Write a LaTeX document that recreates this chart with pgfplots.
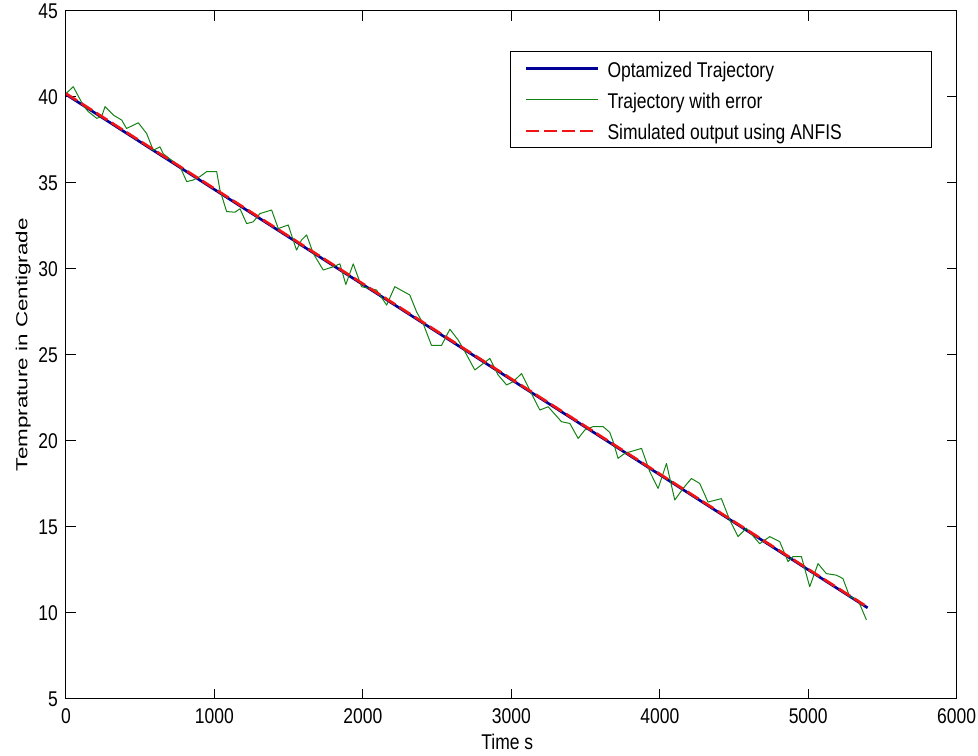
\documentclass[border=0pt]{standalone}
\usepackage{pgfplots}
\pgfplotsset{compat=1.18}
\usepackage{fontspec}
\setmainfont{Liberation Sans}[FakeStretch=0.82]
\newfontfamily\ylfont{Liberation Sans}[FakeStretch=1.4]
\definecolor{mblue}{RGB}{0,0,150}
\definecolor{mgreen}{RGB}{20,130,20}
\definecolor{mred}{RGB}{240,20,20}
\newcommand{\mfont}{\fontsize{16pt}{19pt}\selectfont}
\newcommand{\lt}[1]{\makebox[232.5pt][l]{\rule[-5pt]{0pt}{20pt}#1}}
\begin{document}
\begin{tikzpicture}
\useasboundingbox (-49.5pt,-42.75pt) rectangle (684pt,524.25pt);
\begin{axis}[
  at={(0pt,0pt)}, anchor=south west,
  scale only axis, width=668pt, height=516pt,
  xmin=0, xmax=6000, ymin=5, ymax=45,
  xtick={0,1000,...,6000}, ytick={5,10,...,45},
  tick align=inside, xtick pos=both, ytick pos=both,
  xticklabel pos=lower, yticklabel pos=left,
  major tick length=7.5pt,
  tick style={black, line width=0.75pt},
  axis line style={black, line width=0.75pt},
  scaled x ticks=false,
  /pgf/number format/1000 sep={},
  /pgf/number format/assume math mode=true,
  tick label style={font=\mfont, inner sep=0pt},
  xticklabel style={yshift=-6.75pt},
  yticklabel style={xshift=-6pt},
  xlabel={Time s},
  ylabel={Temprature in Centigrade},
  xlabel style={font=\mfont, at={(axis description cs:0.4955,-0.0741)}, anchor=base, inner sep=0pt},
  ylabel style={font=\ylfont\fontsize{12pt}{14pt}\selectfont, at={(axis description cs:-0.0435,0.515)}, rotate=0, anchor=base, inner sep=0pt},
  legend style={at={(axis description cs:0.9723,0.9419)}, anchor=north east, draw=black, line width=0.75pt, fill=white, inner xsep=10.5pt, inner ysep=4.3pt, row sep=7pt, column sep=6pt, nodes={inner sep=0pt}, font=\mfont},
  legend cell align=left,
  legend image code/.code={\draw[#1] (0pt,0pt) -- (54pt,0pt);},
]
\addplot[mblue, line width=2pt] coordinates {(0,40.15) (5400,10.3)};
\addlegendentry{\lt{Optamized Trajectory}}
\addplot[mgreen, line width=0.75pt, line join=round] coordinates {
(0,40.2) (49,40.6) (117,39.5) (150,39.15) (207,38.76) (240,38.86) (263,39.44)
(319,38.95) (375,38.66) (408,38.17) (487,38.5) (543,37.88) (588,36.9) (633,37.1)
(655,36.7) (768,35.95) (813,35.08) (857,35.17) (902,35.37) (947,35.66) (1015,35.66)
(1037,34.6) (1082,33.34) (1138,33.3) (1172,33.5) (1217,32.64) (1261,32.74) (1306,33.22)
(1385,33.43) (1430,32.35) (1497,32.56) (1553,31.1) (1587,31.69) (1621,31.98) (1666,30.9)
(1733,29.94) (1800,30.13) (1845,30.3) (1885,29.1) (1935,30.3) (1991,28.97) (2047,28.87)
(2092,28.78) (2160,27.9) (2215,28.97) (2316,28.49) (2362,27.5) (2406,26.83) (2462,25.56)
(2530,25.56) (2586,26.5) (2642,25.87) (2687,25.2) (2754,24.13) (2810,24.5) (2855,24.8)
(2911,23.84) (2968,23.26) (3012,23.45) (3069,23.92) (3147,22.57) (3192,21.8) (3248,21.99)
(3338,21.12) (3394,21.02) (3450,20.15) (3495,20.64) (3551,20.84) (3618,20.84) (3663,20.5)
(3686,19.96) (3719,18.99) (3764,19.28) (3877,19.57) (3933,18.21) (3989,17.24) (4045,18.69)
(4101,16.57) (4157,17.24) (4213,17.82) (4269,17.53) (4325,16.45) (4415,16.65) (4471,15.41)
(4527,14.44) (4583,14.93) (4673,14.03) (4741,14.44) (4808,14.15) (4864,12.99) (4898,13.28)
(4954,13.28) (5010,11.53) (5066,12.87) (5122,12.29) (5190,12.2) (5234,12.0) (5279,10.95)
(5335,10.76) (5392,9.6)};
\addlegendentry{\lt{Trajectory with error}}
\addplot[mred, line width=2pt, dash pattern=on 9.75pt off 3.75pt] coordinates {(0,40.2) (5380,10.45)};
\addlegendentry{\lt{Simulated output using ANFIS}}
\end{axis}
\end{tikzpicture}
\end{document}
